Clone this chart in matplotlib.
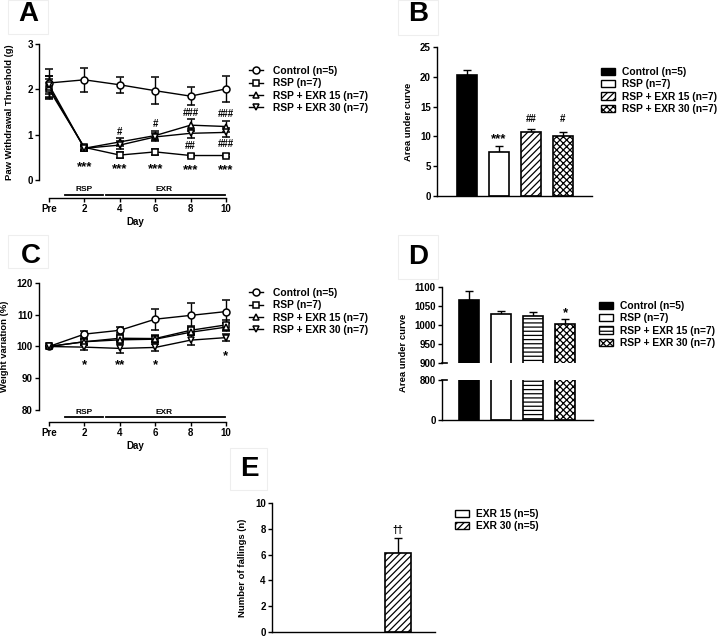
import numpy as np
import matplotlib
matplotlib.use('Agg')
import matplotlib.pyplot as plt
from matplotlib.lines import Line2D
from matplotlib.patches import Patch, Rectangle

plt.rcParams['font.family'] = ['Liberation Sans', 'DejaVu Sans']
plt.rcParams['font.weight'] = 'bold'
plt.rcParams['axes.labelweight'] = 'bold'
plt.rcParams['hatch.linewidth'] = 0.9
plt.rcParams['axes.linewidth'] = 1.0

# ---- data ----
days = ['Pre', '2', '4', '6', '8', '10']
groups = ['Control (n=5)', 'RSP (n=7)', 'RSP + EXR 15 (n=7)', 'RSP + EXR 30 (n=7)']

# A: paw withdrawal threshold (g)
paw_ctrl = [2.14, 2.21, 2.10, 1.97, 1.85, 2.01]
paw_ctrl_err = [0.30, 0.27, 0.18, 0.30, 0.20, 0.28]
paw_rsp = [2.00, 0.72, 0.55, 0.62, 0.54, 0.54]
paw_rsp_err = [0.22, 0.05, 0.06, 0.06, 0.04, 0.04]
paw_exr15 = [2.05, 0.70, 0.84, 0.98, 1.21, 1.18]
paw_exr15_err = [0.25, 0.06, 0.08, 0.10, 0.13, 0.12]
paw_exr30 = [2.10, 0.70, 0.77, 0.95, 1.03, 1.05]
paw_exr30_err = [0.20, 0.05, 0.08, 0.09, 0.10, 0.10]

# B: AUC of paw threshold
auc_paw = [20.3, 7.4, 10.7, 10.05]
auc_paw_err = [0.9, 1.0, 0.6, 0.75]

# C: weight variation (%)
wt_ctrl = [100, 103.9, 105.1, 108.6, 109.8, 111.0]
wt_ctrl_err = [0, 1.0, 1.0, 3.3, 4.0, 3.7]
wt_rsp = [100, 101.5, 102.6, 102.5, 105.1, 106.8]
wt_rsp_err = [0, 1.0, 1.0, 1.0, 1.2, 1.5]
wt_exr15 = [100, 101.5, 102.1, 102.3, 104.5, 106.1]
wt_exr15_err = [0, 0.8, 0.8, 0.9, 1.0, 1.3]
wt_exr30 = [100, 99.8, 99.4, 99.7, 102.0, 102.8]
wt_exr30_err = [0, 0.8, 1.3, 1.0, 1.5, 1.0]

# D: AUC of weight
auc_wt = [1066, 1028, 1024, 1003]
auc_wt_err = [23, 10, 10, 12]

# E: fallings
fall_groups = ['EXR 15 (n=5)', 'EXR 30 (n=5)']
fall = [0, 6.1]
fall_err = [0, 1.15]

# ---- helpers ----
W, H = 726, 641
fig = plt.figure(figsize=(W / 100, H / 100), dpi=100)


def add_ax(l, t, r, b):
    return fig.add_axes([l / W, 1 - b / H, (r - l) / W, (b - t) / H])


def style(ax, fs=7):
    ax.spines['top'].set_visible(False)
    ax.spines['right'].set_visible(False)
    ax.tick_params(direction='out', length=3, width=1, labelsize=fs, pad=1.5)


def letter(s, cx, cy, box):
    l, t, r, b = box
    fig.patches.append(Rectangle((l / W, 1 - b / H), (r - l) / W, (b - t) / H,
                                 transform=fig.transFigure, fill=False,
                                 edgecolor='#eeeeee', lw=0.8))
    fig.text(cx / W, 1 - cy / H, s, fontsize=20, fontweight='bold',
             ha='center', va='center')


def legend(ax, handles, labels, left, top, hl=1.4, htp=0.95, hh=0.7):
    ax.legend(handles, labels, loc='upper left',
              bbox_to_anchor=(left / W, 1 - top / H), bbox_transform=fig.transFigure,
              frameon=False, borderpad=0, borderaxespad=0, handlelength=hl,
              handletextpad=htp, handleheight=hh, labelspacing=0.22, numpoints=1,
              prop={'size': 7.4, 'weight': 'bold'})


def mark(ax, xi, yi, s):
    # asterisks sit high in the font, so pull them down a little
    if '*' in s:
        ax.annotate(s, (xi, yi), xytext=(0, -2.2), textcoords='offset points',
                    ha='center', va='center', fontsize=9.5)
    else:
        ax.text(xi, yi, s, ha='center', va='center', fontsize=7)


def up_err(ax, xs, vals, errs):
    xs, vals, errs = np.asarray(xs), np.asarray(vals), np.asarray(errs)
    keep = errs > 0
    ax.errorbar(xs[keep], vals[keep], yerr=[np.zeros(keep.sum()), errs[keep]],
                fmt='none', ecolor='k', capsize=3, capthick=1, elinewidth=1, zorder=1)


markers = ['o', 's', '^', 'v']
line_handles = [Line2D([], [], color='k', lw=1, marker=m, mfc='white', mec='k',
                       ms=5, mew=1.1) for m in markers]

# ---- A ----
axA = add_ax(39, 44, 232, 198)
style(axA)
x = np.arange(len(days))
for yv, ev, m in zip([paw_ctrl, paw_rsp, paw_exr15, paw_exr30],
                     [paw_ctrl_err, paw_rsp_err, paw_exr15_err, paw_exr30_err], markers):
    axA.errorbar(x, yv, yerr=ev, color='k', lw=1, marker=m, mfc='white', mec='k',
                 ms=5, mew=1.1, capsize=3, capthick=1, elinewidth=1)
axA.set_xlim(-0.282, 5.17)
axA.set_ylim(-0.397, 3)
axA.spines['left'].set_bounds(0, 3)
axA.spines['bottom'].set_bounds(0, 5)
axA.set_yticks([0, 1, 2, 3])
axA.set_xticks(x)
axA.set_xticklabels(days)
axA.set_xlabel('Day', fontsize=7, labelpad=2)
axA.set_ylabel('Paw Withdrawal Threshold (g)', fontsize=6.8)
axA.yaxis.set_label_coords((14 - 39) / 193, (198 - 112) / 154)
for xi, yi, s in [(1, 0.36, '***'), (2, 0.30, '***'), (3, 0.31, '***'), (4, 0.28, '***'),
                  (5, 0.29, '***'), (2, 1.06, '#'), (3, 1.24, '#'), (4, 1.47, '###'),
                  (5, 1.45, '###'), (4, 0.75, '##'), (5, 0.80, '###')]:
    mark(axA, xi, yi, s)
axA.plot([0.45, 1.53], [-0.33, -0.33], color='k', lw=1.3, clip_on=False)
axA.plot([1.61, 4.97], [-0.33, -0.33], color='k', lw=1.3, clip_on=False)
axA.text(1.0, -0.21, 'RSP', ha='center', va='center', fontsize=6)
axA.text(3.25, -0.21, 'EXR', ha='center', va='center', fontsize=6)
legend(axA, line_handles, groups, 249, 66)

# ---- C ----
axC = add_ax(39, 283, 232, 422)
style(axC)
for yv, ev, m in zip([wt_ctrl, wt_rsp, wt_exr15, wt_exr30],
                     [wt_ctrl_err, wt_rsp_err, wt_exr15_err, wt_exr30_err], markers):
    axC.errorbar(x, yv, yerr=ev, color='k', lw=1, marker=m, mfc='white', mec='k',
                 ms=5, mew=1.1, capsize=3, capthick=1, elinewidth=1)
axC.set_xlim(-0.282, 5.17)
axC.set_ylim(76.22, 120)
axC.spines['left'].set_bounds(80, 120)
axC.spines['bottom'].set_bounds(0, 5)
axC.set_yticks([80, 90, 100, 110, 120])
axC.set_xticks(x)
axC.set_xticklabels(days)
axC.set_xlabel('Day', fontsize=7, labelpad=2)
axC.set_ylabel('Weight variation (%)', fontsize=6.8)
axC.yaxis.set_label_coords((9 - 39) / 193, (422 - 346.5) / 139)
for xi, yi, s in [(1, 95.2, '*'), (2, 95.2, '**'), (3, 95.2, '*'), (5, 97.9, '*')]:
    mark(axC, xi, yi, s)
axC.plot([0.45, 1.53], [77.7, 77.7], color='k', lw=1.3, clip_on=False)
axC.plot([1.61, 4.97], [77.7, 77.7], color='k', lw=1.3, clip_on=False)
axC.text(1.0, 79.3, 'RSP', ha='center', va='center', fontsize=6)
axC.text(3.25, 79.3, 'EXR', ha='center', va='center', fontsize=6)
legend(axC, line_handles, groups, 249, 288)

# ---- bar styles ----
bar_fc = ['black', 'white', 'white', 'white']
hatch_B = [None, None, '/////', 'xxxxx']
hatch_D = [None, None, '----', 'xxxxx']
xb = np.arange(4)


def bar_handles(hatches):
    return [Patch(facecolor=fc, edgecolor='k', hatch=h, lw=1)
            for fc, h in zip(bar_fc, hatches)]


# ---- B ----
axB = add_ax(437, 47, 592, 196)
style(axB)
up_err(axB, xb, auc_paw, auc_paw_err)
axB.bar(xb, auc_paw, width=0.625, color=bar_fc, edgecolor='k', lw=1.2,
        hatch=hatch_B, zorder=2)
axB.set_xlim(-0.9375, 3.906)
axB.set_ylim(0, 25)
axB.set_xticks([])
axB.set_yticks([0, 5, 10, 15, 20, 25])
axB.set_ylabel('Area under curve', fontsize=6.8)
axB.yaxis.set_label_coords((413 - 437) / 155, 0.5)
for xi, yi, s in [(1, 10.1, '***'), (2, 13.0, '##'), (3, 13.0, '#')]:
    mark(axB, xi, yi, s)
legend(axB, bar_handles(hatch_B), groups, 601, 67, hl=1.35, htp=0.65)

# ---- D (broken axis) ----
axDt = add_ax(442, 287, 593, 363)
axDb = add_ax(442, 380, 593, 420)
for ax in (axDt, axDb):
    style(ax)
    up_err(ax, xb, auc_wt, auc_wt_err)
    ax.bar(xb, auc_wt, width=0.625, color=bar_fc, edgecolor='k', lw=1.2,
           hatch=hatch_D, zorder=2)
    ax.set_xlim(-0.844, 3.875)
    ax.set_xticks([])
axDt.spines['bottom'].set_visible(False)
axDt.set_ylim(900, 1100)
axDt.set_yticks([900, 950, 1000, 1050, 1100])
axDb.spines['top'].set_visible(False)
axDb.set_ylim(0, 800)
axDb.set_yticks([0, 800])
axDt.plot([0, 0.035], [900, 900], color='k', lw=1.2, transform=axDt.get_yaxis_transform(),
          clip_on=False)
axDb.plot([0, 0.035], [800, 800], color='k', lw=1.2, transform=axDb.get_yaxis_transform(),
          clip_on=False)
mark(axDt, 3, 1040, '*')
fig.text(404 / W, 1 - 353 / H, 'Area under curve', rotation=90, ha='center', va='center',
         fontsize=6.8, fontweight='bold')
legend(axDt, bar_handles(hatch_D), groups, 599, 301, hl=1.35, htp=0.65)

# ---- E ----
axE = add_ax(272, 503, 435, 632)
style(axE)
xe = np.arange(2)
up_err(axE, xe, fall, fall_err)
axE.bar(xe, fall, width=0.303, color='white', edgecolor=['none', 'k'], lw=1.2,
        hatch=[None, '/////'], zorder=2)
axE.set_xlim(-0.416, 1.416)
axE.set_ylim(0, 10)
axE.set_xticks([])
axE.set_yticks([0, 2, 4, 6, 8, 10])
axE.set_ylabel('Number of fallings (n)', fontsize=6.8)
axE.yaxis.set_label_coords((247 - 272) / 163, 0.5)
axE.text(1, 7.9, '\u2020\u2020', ha='center', va='center', fontsize=7)
legend(axE, [Patch(facecolor='white', edgecolor='k', lw=1),
             Patch(facecolor='white', edgecolor='k', hatch='/////', lw=1)],
       fall_groups, 455, 509, hl=1.35, htp=0.65)

# ---- panel letters ----
letter('A', 28, 14, (8, 0, 48, 34))
letter('B', 418, 14, (398, 0, 438, 35))
letter('C', 31, 256, (8, 235, 48, 268))
letter('D', 418, 257, (398, 235, 438, 279))
letter('E', 249, 469, (230, 448, 267, 490))

fig.savefig('out.png', dpi=100)
